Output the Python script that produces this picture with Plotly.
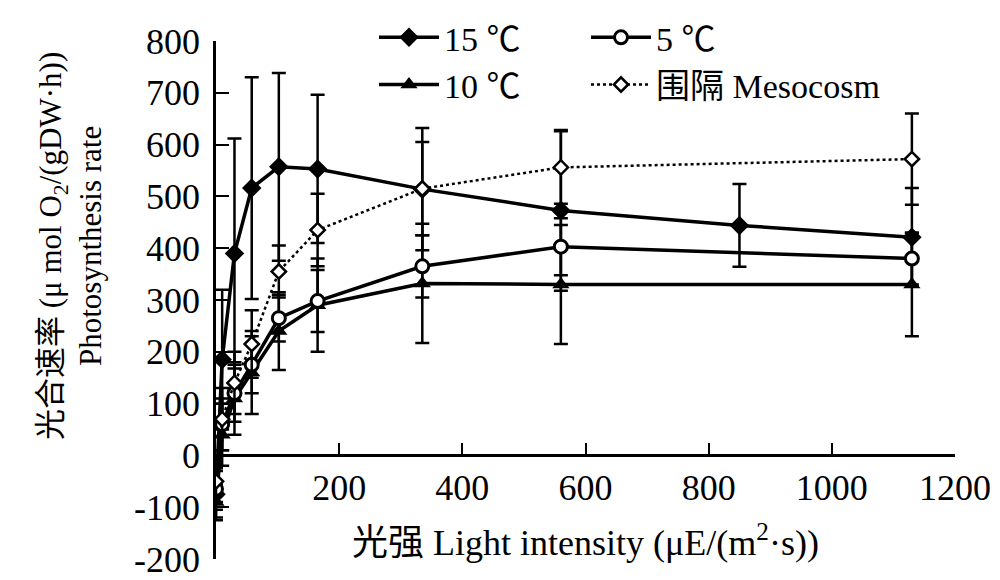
import plotly.graph_objects as go

# ---- data ----
x_common = [0, 10, 30, 58, 102, 165, 335, 560, 1130]
x_15 = [0, 10, 30, 58, 102, 165, 335, 560, 850, 1130]

y_15 = [-75, 185, 390, 516, 557, 553, 514, 473, 444, 421]
e_15 = [45, 135, 222, 214, 181, 143, 118, 155, 80, 95]

y_10 = [-90, 40, 110, 160, 240, 290, 332, 330, 330]
e_10 = [35, 60, 70, 80, 75, 90, 115, 115, 100]

y_5 = [-65, 60, 120, 175, 265, 298, 365, 403, 380]
e_5 = [40, 50, 55, 55, 45, 60, 60, 55, 50]

y_meso = [-50, 70, 140, 215, 355, 435, 515, 556, 572]
e_meso = [40, 60, 60, 65, 50, 70, 90, 70, 88]

names = ["15 ℃", "10 ℃", "5 ℃", "围隔 Mesocosm"]
x_ticks = [200, 400, 600, 800, 1000, 1200]
y_ticks = [-200, -100, 0, 100, 200, 300, 400, 500, 600, 700, 800]
x_title = "光强 Light intensity (μE/(m<sup>2</sup>·s))"
y_title = "光合速率 (μ mol O<sub>2</sub>/(gDW·h))<br>Photosynthesis rate"

FONT = "Liberation Serif, Times New Roman, Noto Sans CJK SC, serif"
FS = 34
TFS = 36

def err(arr):
    return dict(type="data", array=arr, visible=True, color="black", thickness=2.5, width=7)

fig = go.Figure()
fig.add_trace(go.Scatter(
    x=x_15, y=y_15, name=names[0], mode="lines+markers",
    line=dict(color="black", width=3.5),
    marker=dict(symbol="diamond", size=15, color="black"),
    error_y=err(e_15), legend="legend"))
fig.add_trace(go.Scatter(
    x=x_common, y=y_10, name=names[1], mode="lines+markers",
    line=dict(color="black", width=3.5),
    marker=dict(symbol="triangle-up", size=15, color="black"),
    error_y=err(e_10), legend="legend"))
fig.add_trace(go.Scatter(
    x=x_common, y=y_5, name=names[2], mode="lines+markers",
    line=dict(color="black", width=3.5),
    marker=dict(symbol="circle", size=13, color="white", line=dict(color="black", width=3)),
    error_y=err(e_5), legend="legend2"))
fig.add_trace(go.Scatter(
    x=x_common, y=y_meso, name=names[3], mode="lines+markers",
    line=dict(color="black", width=2.5, dash="dot"),
    marker=dict(symbol="diamond", size=11, color="white", line=dict(color="black", width=2.5)),
    error_y=err(e_meso), legend="legend2"))

legend_common = dict(
    bgcolor="rgba(0,0,0,0)", borderwidth=0,
    font=dict(family=FONT, size=FS, color="black"),
    orientation="v", yanchor="top", xanchor="left",
    xref="container", yref="container",
    tracegroupgap=0, itemwidth=60,
)

fig.update_layout(
    width=1000, height=580,
    margin=dict(l=216, r=45, t=41, b=21, autoexpand=False),
    paper_bgcolor="white", plot_bgcolor="white",
    font=dict(family=FONT, size=FS, color="black"),
    showlegend=True,
    legend=dict(x=0.374, y=0.985, **legend_common),
    legend2=dict(x=0.586, y=0.985, **legend_common),
    xaxis=dict(
        range=[0, 1200], tickvals=x_ticks, ticktext=[str(v) for v in x_ticks],
        anchor="free", position=0.2, automargin=False,
        showline=True, linecolor="black", linewidth=2.5,
        ticks="inside", ticklen=12, tickwidth=2, tickcolor="black",
        showgrid=False, zeroline=False,
        tickfont=dict(family=FONT, size=TFS, color="black"),
        title=dict(text=x_title, font=dict(family=FONT, size=36, color="black"), standoff=22),
    ),
    yaxis=dict(
        range=[-200, 800], tickvals=y_ticks, ticktext=[str(v) for v in y_ticks],
        automargin=False, ticklabelstandoff=6,
        showline=True, linecolor="black", linewidth=2.5,
        ticks="inside", ticklen=13, tickwidth=2, tickcolor="black",
        showgrid=False, zeroline=False,
        tickfont=dict(family=FONT, size=TFS, color="black"),
    ),
    annotations=[dict(
        text=y_title, textangle=-90, showarrow=False,
        xref="paper", yref="paper", x=(70 - 216) / 739, y=(559 - 246) / 518,
        xanchor="center", yanchor="middle",
        font=dict(family=FONT, size=31, color="black"),
    )],
)

fig.write_html("out.html", config={"displayModeBar": False},
               post_script="document.body.style.margin='0';")
